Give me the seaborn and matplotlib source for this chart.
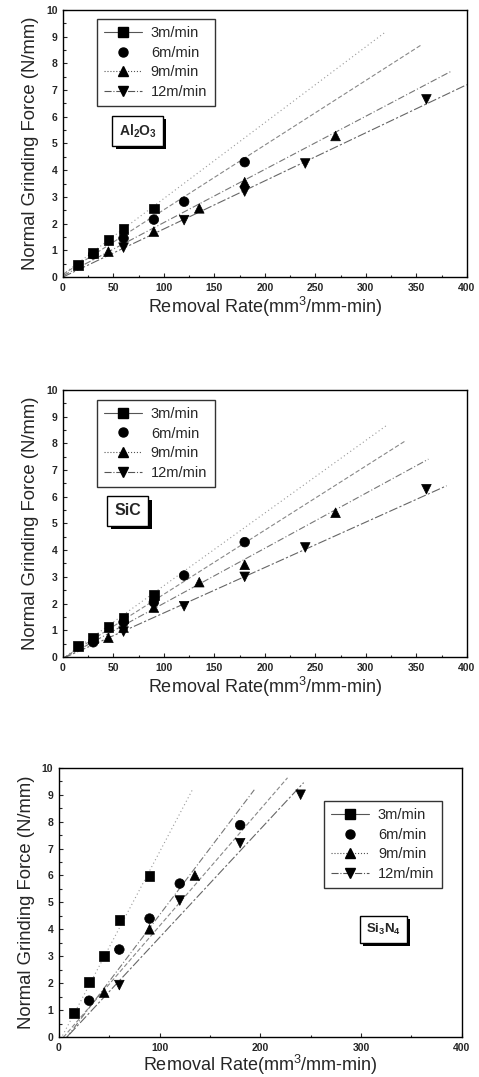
import seaborn as sns
import matplotlib.pyplot as plt
import matplotlib.patheffects as pe
from matplotlib.lines import Line2D
from matplotlib.ticker import MultipleLocator
import numpy as np
import pandas as pd

sns.set_style("ticks")
plt.rcParams['font.family'] = ['Liberation Sans', 'DejaVu Sans']
plt.rcParams['mathtext.fontset'] = 'custom'
plt.rcParams['mathtext.rm'] = 'Liberation Sans'
plt.rcParams['mathtext.bf'] = 'Liberation Sans:bold'

speeds = ['3m/min', '6m/min', '9m/min', '12m/min']

# Al2O3
al_x = {'3m/min': [15, 30, 45, 60, 90],
        '6m/min': [30, 60, 90, 120, 180],
        '9m/min': [45, 90, 135, 180, 270],
        '12m/min': [60, 120, 180, 240, 360]}
al_y = {'3m/min': [0.45, 0.9, 1.38, 1.8, 2.57],
        '6m/min': [0.85, 1.45, 2.15, 2.82, 4.3],
        '9m/min': [0.95, 1.7, 2.57, 3.55, 5.28],
        '12m/min': [1.1, 2.13, 3.2, 4.25, 6.65]}
# fitted lines: slope, intercept, last x
al_slope = [0.0284, 0.0242, 0.0199, 0.018]
al_icpt = [0.1, 0.1, 0.05, 0.0]
al_end = [320, 355, 385, 400]

# SiC
sic_x = {'3m/min': [15, 30, 45, 60, 90],
         '6m/min': [30, 60, 90, 120, 180],
         '9m/min': [45, 60, 90, 135, 180, 270],
         '12m/min': [60, 120, 180, 240, 360]}
sic_y = {'3m/min': [0.42, 0.72, 1.12, 1.45, 2.32],
         '6m/min': [0.55, 1.3, 2.05, 3.05, 4.3],
         '9m/min': [0.72, 1.1, 1.85, 2.8, 3.45, 5.4],
         '12m/min': [0.95, 1.9, 3.0, 4.1, 6.28]}
sic_slope = [0.0272, 0.024, 0.0206, 0.017]
sic_icpt = [-0.05, -0.05, -0.05, -0.05]
sic_end = [322, 340, 362, 380]

# Si3N4
sin_x = {'3m/min': [15, 30, 45, 60, 90],
         '6m/min': [30, 60, 90, 120, 180],
         '9m/min': [45, 90, 135],
         '12m/min': [60, 120, 180, 240]}
sin_y = {'3m/min': [0.9, 2.05, 3.02, 4.35, 5.97],
         '6m/min': [1.35, 3.25, 4.4, 5.7, 7.87],
         '9m/min': [1.65, 4.0, 6.0],
         '12m/min': [1.93, 5.07, 7.2, 9.0]}
sin_slope = [0.0708, 0.0433, 0.0494, 0.0402]
sin_icpt = [-0.2, -0.2, -0.4, -0.32]
sin_end = [133, 227, 194, 243]

markers = {'3m/min': 's', '6m/min': 'o', '9m/min': '^', '12m/min': 'v'}
fit_styles = [(0, (1, 2.5)), (0, (4, 2)), (0, (6, 2, 1, 2)), (0, (8, 2, 2, 2))]
fit_colors = ['#999999', '#888888', '#777777', '#666666']
legend_styles = ['-', 'None', ':', '-.']


def to_frame(xs, ys):
    rows = []
    for s in speeds:
        for x, y in zip(xs[s], ys[s]):
            rows.append({'rate': x, 'force': y, 'speed': s})
    return pd.DataFrame(rows)


def draw_panel(ax, xs, ys, slopes, icpts, ends, label, label_size, label_pos,
               leg_loc, xmajor, xpad=2):
    df = to_frame(xs, ys)
    for k, b, end, ls, c in zip(slopes, icpts, ends, fit_styles, fit_colors):
        xx = np.linspace(0, end, 50)
        ax.plot(xx, k * xx + b, color=c, lw=0.8, ls=ls, zorder=1)
    sns.scatterplot(data=df, x='rate', y='force', style='speed', markers=markers,
                    color='black', s=48, edgecolor='black', linewidth=0.5,
                    legend=False, ax=ax, zorder=3)
    ax.set_xlim(0, 400)
    ax.set_ylim(0, 10)
    ax.xaxis.set_major_locator(MultipleLocator(xmajor))
    ax.xaxis.set_minor_locator(MultipleLocator(xmajor / 2))
    ax.yaxis.set_major_locator(MultipleLocator(1))
    ax.yaxis.set_minor_locator(MultipleLocator(0.5))
    ax.tick_params(which='both', direction='in', labelsize=7.5, width=0.8, pad=4)
    ax.tick_params(which='major', length=3)
    ax.tick_params(which='minor', length=1.8)
    for t in ax.get_xticklabels() + ax.get_yticklabels():
        t.set_fontweight('bold')
    for sp in ax.spines.values():
        sp.set_visible(True)
        sp.set_linewidth(1.0)
        sp.set_color('black')
    ax.set_xlabel(r'Removal Rate(mm$^3$/mm-min)', fontsize=13, labelpad=xpad)
    ax.set_ylabel('Normal Grinding Force (N/mm)', fontsize=13.3, labelpad=5)

    handles = [Line2D([], [], color='#555555', lw=0.8, ls=ls, marker=markers[s],
                      markerfacecolor='black', markeredgecolor='black', markersize=6.5)
               for s, ls in zip(speeds, legend_styles)]
    leg = ax.legend(handles, speeds, loc='upper left', bbox_to_anchor=leg_loc,
                    fontsize=10.5, frameon=True, fancybox=False, edgecolor='black',
                    handlelength=2.6, borderpad=0.5, labelspacing=0.38,
                    handletextpad=0.6, borderaxespad=0)
    leg.get_frame().set_linewidth(1.0)

    txt = ax.text(label_pos[0], label_pos[1], label, fontsize=label_size,
                  fontweight='bold', ha='center', va='center', zorder=5,
                  bbox=dict(boxstyle='square,pad=0.45', facecolor='white',
                            edgecolor='black', linewidth=1.0))
    txt.get_bbox_patch().set_path_effects(
        [pe.SimplePatchShadow(offset=(2.5, -2.5), shadow_rgbFace='black', alpha=1),
         pe.Normal()])


fig = plt.figure(figsize=(4.79, 10.77), dpi=100)
ax1 = fig.add_axes([0.1315, 0.7428, 0.843, 0.248])
ax2 = fig.add_axes([0.1315, 0.390, 0.843, 0.248])
ax3 = fig.add_axes([0.123, 0.0371, 0.841, 0.250])

draw_panel(ax1, al_x, al_y, al_slope, al_icpt, al_end,
           r'Al$_\mathbf{2}$O$_\mathbf{3}$', 10, (74, 5.47), (0.084, 0.966), 50)
draw_panel(ax2, sic_x, sic_y, sic_slope, sic_icpt, sic_end,
           'SiC', 11.5, (64, 5.47), (0.084, 0.963), 50)
draw_panel(ax3, sin_x, sin_y, sin_slope, sin_icpt, sin_end,
           r'Si$_\mathbf{3}$N$_\mathbf{4}$', 9.5, (322, 4.0), (0.658, 0.877), 100,
           xpad=0)

fig.savefig('out.png', dpi=100)
